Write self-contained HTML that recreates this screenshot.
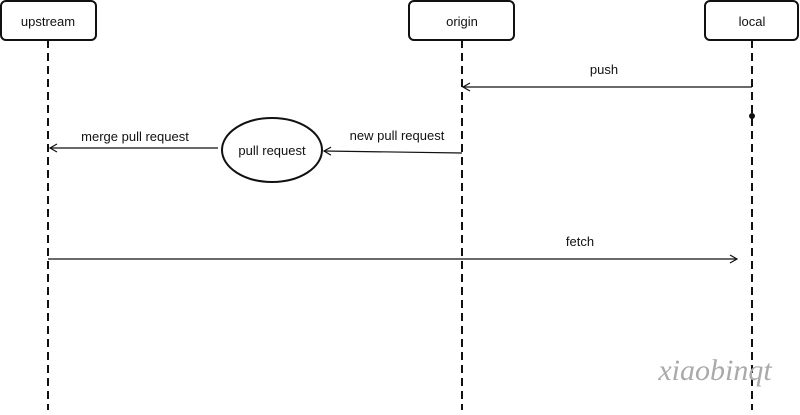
<!DOCTYPE html>
<html><head><style>
body{margin:0;background:#fff;width:800px;height:410px;overflow:hidden}
text{font-family:"Liberation Sans",sans-serif;font-size:13px;fill:#111}
</style></head><body>
<svg width="800" height="410" viewBox="0 0 800 410">
<defs><marker id="a" markerWidth="10" markerHeight="10" refX="8" refY="5" orient="auto" markerUnits="userSpaceOnUse"><path d="M1,1 L8,5 L1,9" fill="none" stroke="#111" stroke-width="1.2"/></marker></defs>
<g stroke="#111" stroke-width="2" fill="none" stroke-dasharray="8,5">
<line x1="48" y1="40" x2="48" y2="410"/>
<line x1="462" y1="40" x2="462" y2="410"/>
<line x1="752" y1="40" x2="752" y2="410"/>
</g>
<g stroke="#111" stroke-width="2" fill="#fff">
<rect x="1" y="1" width="95" height="39" rx="5"/>
<rect x="409" y="1" width="105" height="39" rx="5"/>
<rect x="705" y="1" width="93" height="39" rx="5"/>
<ellipse cx="272" cy="150" rx="50" ry="32"/>
</g>
<text x="48" y="26" text-anchor="middle">upstream</text>
<text x="462" y="26" text-anchor="middle">origin</text>
<text x="752" y="26" text-anchor="middle">local</text>
<text x="272" y="155" text-anchor="middle">pull request</text>
<g stroke="#111" stroke-width="1.2" fill="none">
<line x1="752" y1="87" x2="463" y2="87" marker-end="url(#a)"/>
<line x1="218" y1="148" x2="50" y2="148" marker-end="url(#a)"/>
<line x1="462" y1="153" x2="324" y2="151" marker-end="url(#a)"/>
<line x1="48" y1="259" x2="737" y2="259" marker-end="url(#a)"/>
</g>
<circle cx="752" cy="116" r="3" fill="#111"/>
<text x="604" y="74" text-anchor="middle">push</text>
<text x="135" y="141" text-anchor="middle">merge pull request</text>
<text x="397" y="140" text-anchor="middle">new pull request</text>
<text x="580" y="246" text-anchor="middle">fetch</text>
<text x="715" y="380" text-anchor="middle" style="font-family:'Liberation Serif',serif;font-style:italic;font-size:30px;fill:#aaa">xiaobinqt</text>
</svg>
</body></html>
